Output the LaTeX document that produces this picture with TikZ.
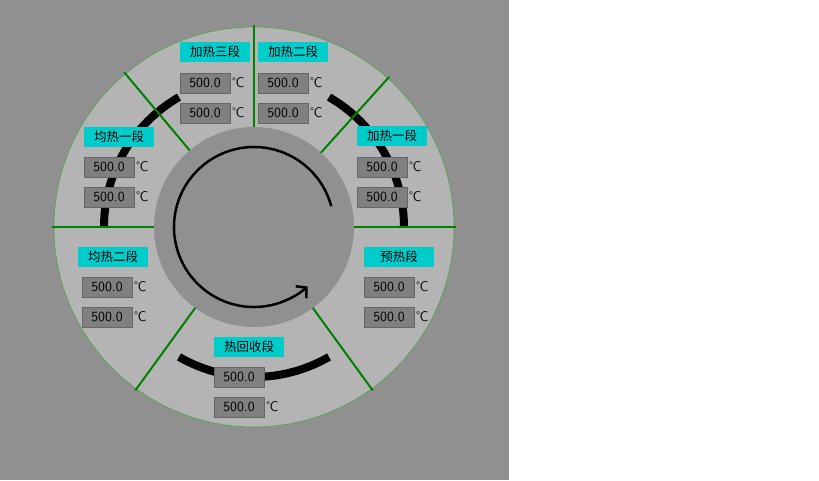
\documentclass[tikz,border=0pt]{standalone}
\usepackage{fontspec}
\newfontfamily\cjk{Noto Sans CJK SC}
\usetikzlibrary{arrows.meta}
\definecolor{bg}{HTML}{909090}
\definecolor{ring}{HTML}{B4B4B4}
\definecolor{lab}{HTML}{00CCCC}
\definecolor{val}{HTML}{808080}
\definecolor{gr}{HTML}{008000}
\tikzset{
  lbl/.style={fill=lab,minimum width=70pt,minimum height=20pt,inner sep=0pt,font=\cjk\fontsize{12.5}{12.5}\selectfont},
  vbox/.style={fill=val,draw=black!60,line width=1pt,minimum width=50pt,minimum height=20pt,inner sep=0pt,font=\fontsize{14}{14}\selectfont\sffamily},
  unit/.style={right,inner sep=1pt,font=\fontsize{14}{14}\selectfont\sffamily},
  sep/.style={gr,line width=2pt},
  blk/.style={line width=8pt}
}
\begin{document}
\begin{tikzpicture}[x=1pt,y=-1pt]
\fill[white] (0,0) rectangle (819,480);
\useasboundingbox (0,0) rectangle (819,480);
\fill[bg] (0,0) rectangle (509,480);
\coordinate (c) at (254,227);
\fill[ring,draw=gr!70,line width=0.6pt] (c) circle[radius=200];
\fill[bg] (c) circle[radius=100];
\draw[blk] ([shift={(-120:150)}]c) arc[start angle=-120,end angle=-180,radius=150];
\draw[blk] ([shift={(-60:150)}]c) arc[start angle=-60,end angle=0,radius=150];
\draw[blk] ([shift={(120:150)}]c) arc[start angle=120,end angle=60,radius=150];
\foreach \a in {-90,-130,-48,180,0,126,54}
  \draw[sep] ([shift={(\a:100)}]c) -- ([shift={(\a:202)}]c);
\draw[line width=2.5pt,-{Straight Barb[length=7pt,width=16pt]}] ([shift={(-15:80)}]c) arc[start angle=-15,end angle=-312,radius=80];
\node[lbl] (l1) at (215,52) {加热三段};
\node[lbl] (l2) at (293,52) {加热二段};
\node[lbl] (l3) at (392,136) {加热一段};
\node[lbl] (l4) at (119,137) {均热一段};
\node[lbl] (l5) at (113,257) {均热二段};
\node[lbl] (l6) at (399,257) {预热段};
\node[lbl] (l7) at (249,347) {热回收段};
\foreach \n/\x/\y in {a/205/83,b/283/83,c3/382/167,d/109/167,e/107/287,f/389/287}{
  \node[vbox] (\n1) at (\x,\y) {500.0};
  \node[unit] at ([xshift=1pt]\n1.east) {℃};
  \node[vbox] (\n2) at (\x,\y+30) {500.0};
  \node[unit] at ([xshift=1pt]\n2.east) {℃};
}
\node[vbox] (g1) at (239,377) {500.0};
\node[vbox] (g2) at (239,407) {500.0};
\node[unit] at ([xshift=1pt]g2.east) {℃};
\end{tikzpicture}
\end{document}
